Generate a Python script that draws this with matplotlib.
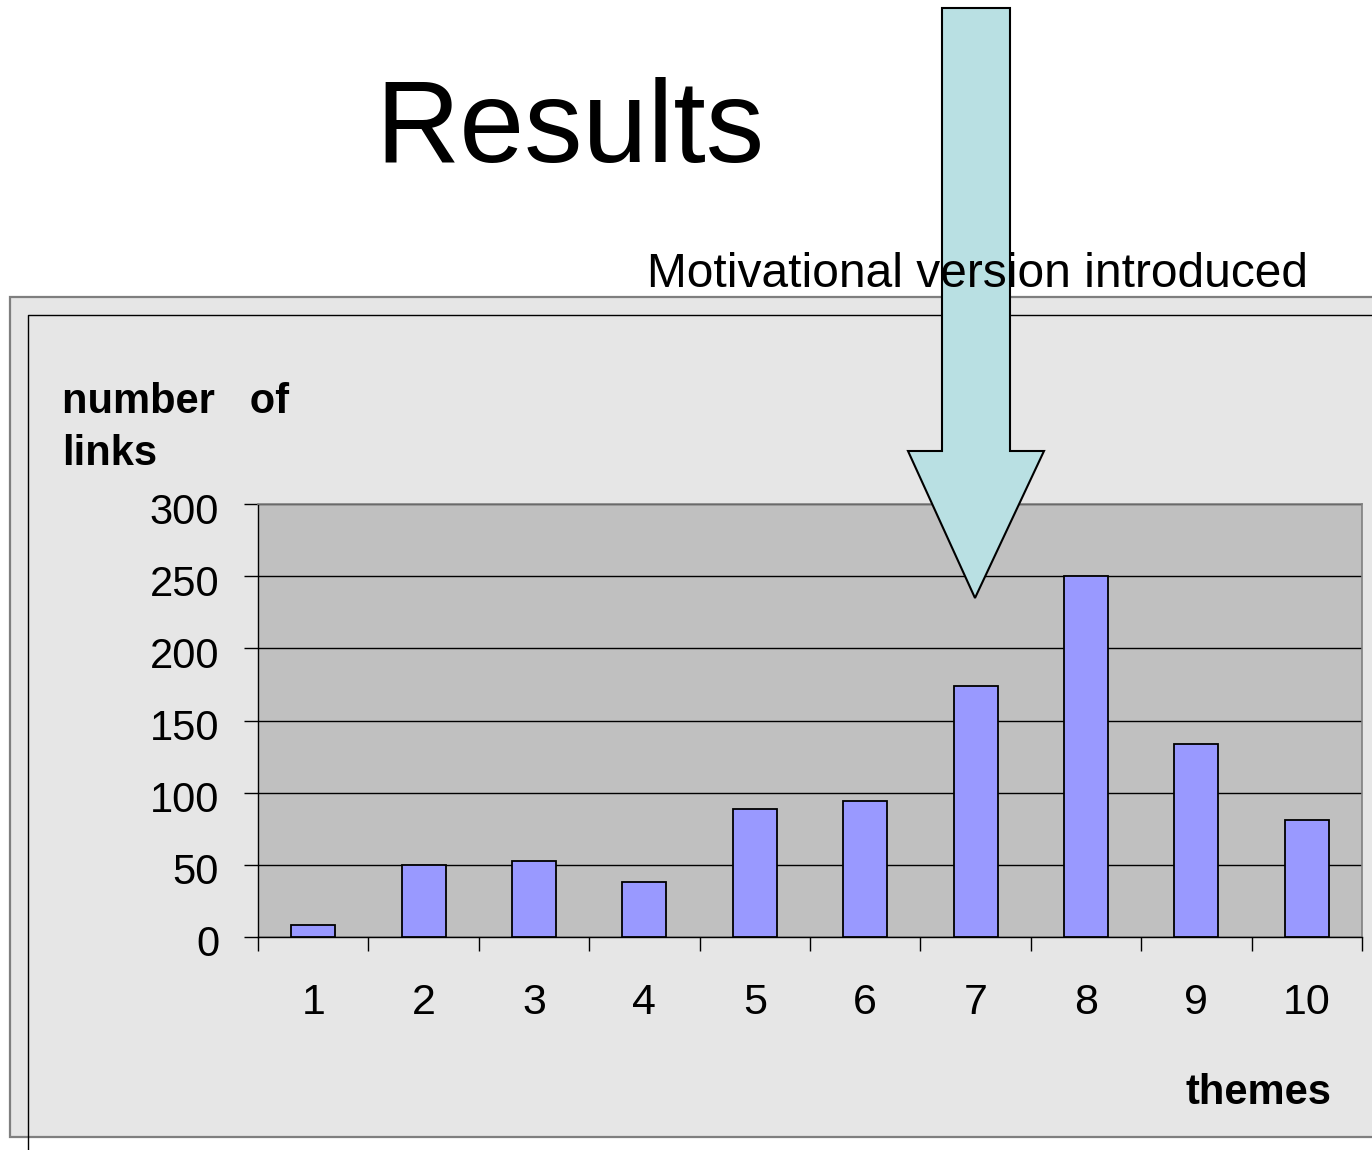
import matplotlib
matplotlib.use("Agg")
import matplotlib.pyplot as plt
import matplotlib.transforms as mtransforms
from matplotlib.patches import Rectangle, Polygon
from matplotlib.lines import Line2D

plt.rcParams['font.family'] = ['Liberation Sans', 'DejaVu Sans']

# ---- data ----
themes = ["1", "2", "3", "4", "5", "6", "7", "8", "9", "10"]
links = [8, 50, 53, 38, 89, 94, 174, 250, 134, 81]
y_ticks = [0, 50, 100, 150, 200, 250, 300]

W, H = 1372, 1150
fig = plt.figure(figsize=(W / 100, H / 100), dpi=100)
fig.patch.set_facecolor("white")


def fx(px):
    return px / W


def fy(py):
    return 1 - py / H


# outer gray chart box
fig.patches.append(Rectangle((fx(10), fy(1137)), fx(1380) - fx(10), fy(297) - fy(1137),
                             transform=fig.transFigure, facecolor="#e6e6e6",
                             edgecolor="#7f7f7f", linewidth=1.6, zorder=-2))
# inner frame lines
fig.lines.append(Line2D([fx(28), fx(28), fx(1372)], [fy(1150), fy(315), fy(315)],
                        transform=fig.transFigure, color="black", linewidth=1.0, zorder=-1))

# plot area
ax = fig.add_axes([fx(258), fy(937), fx(1362) - fx(258), fy(504) - fy(937)])
ax.set_facecolor("#c0c0c0")
x = list(range(len(themes)))
ax.bar(x, links, width=0.4, color="#9999ff", edgecolor="black", linewidth=1.3, zorder=3)
ax.set_xlim(-0.5, len(themes) - 0.5)
ax.set_ylim(0, 300)
ax.set_yticks(y_ticks)
ax.set_yticklabels([str(v) for v in y_ticks], fontsize=30)
ax.tick_params(axis="y", direction="out", length=10, width=1, pad=18, colors="black")
shift = mtransforms.ScaledTranslation(0, -4 / 100, fig.dpi_scale_trans)
for lbl in ax.get_yticklabels():
    lbl.set_transform(lbl.get_transform() + shift)
ax.yaxis.grid(True, color="black", linewidth=1.0, zorder=1)
ax.set_axisbelow(True)

ax.set_xticks([i - 0.5 for i in range(len(themes) + 1)])
ax.set_xticklabels([])
ax.tick_params(axis="x", which="major", direction="out", length=10, width=1, colors="black")
ax.set_xticks(x, minor=True)
ax.set_xticklabels(themes, minor=True, fontsize=31)
ax.tick_params(axis="x", which="minor", length=0, pad=33)

for s in ["top", "right"]:
    ax.spines[s].set_color("#808080")
    ax.spines[s].set_linewidth(1.2)
for s in ["left", "bottom"]:
    ax.spines[s].set_color("black")
    ax.spines[s].set_linewidth(1.0)

# texts
fig.text(fx(570), fy(162), "Results", fontsize=84, ha="center", va="baseline")
fig.text(fx(647), fy(287), "Motivational version introduced", fontsize=34.5,
         ha="left", va="baseline", zorder=12)
fig.text(fx(62), fy(413), "number   of", fontsize=30, fontweight="bold",
         ha="left", va="baseline")
fig.text(fx(62), fy(465), "links", fontsize=30, fontweight="bold",
         ha="left", va="baseline")
fig.text(fx(1331), fy(1104), "themes", fontsize=30, fontweight="bold",
         ha="right", va="baseline")

# arrow annotation
arrow_px = [(942, 8), (1010, 8), (1010, 451), (1044, 451), (975, 598), (908, 451), (942, 451)]
fig.patches.append(Polygon([(fx(a), fy(b)) for a, b in arrow_px], closed=True,
                           transform=fig.transFigure, facecolor="#b9e0e3",
                           edgecolor="black", linewidth=1.5, zorder=10))

fig.savefig("out.png", dpi=100, facecolor="white")
